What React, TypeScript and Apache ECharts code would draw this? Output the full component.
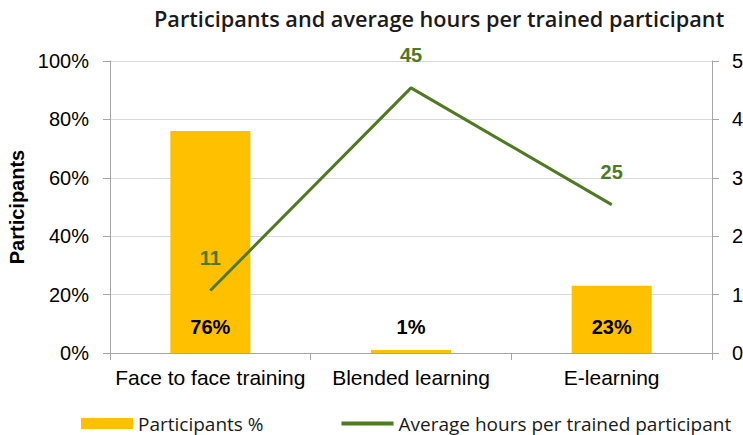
import React, { useEffect, useRef } from "react";
import * as echarts from "echarts";

const categories = ["Face to face training", "Blended learning", "E-learning"];
const participantsPct = [76, 1, 23];
const avgHours = [10.7, 45.4, 25.4];
const leftTicks = ["0%", "20%", "40%", "60%", "80%", "100%"];
const rightTicks = ["0", "10", "20", "30", "40", "50"];

const GOLD = "#FFC000";
const GREEN = "#4E7A21";
const AXIS = "#A6A6A6";
const GRID = "#D9D9D9";
const TICK_FONT = "Liberation Sans";
const TITLE_FONT = "Open Sans";

export default function App() {
  const ref = useRef<HTMLDivElement>(null);
  useEffect(() => {
    if (!ref.current) return;
    const chart = echarts.init(ref.current, undefined, { renderer: "svg" });
    chart.setOption({
      animation: false,
      backgroundColor: "#ffffff",
      title: {
        text: "Participants and average hours per trained participant",
        left: 149,
        top: 2,
        textStyle: { fontFamily: TITLE_FONT, fontSize: 21.7, fontWeight: 600, color: "#1a1a1a" },
      },
      grid: { left: 110, right: 31, top: 61, bottom: 82, containLabel: false, outerBoundsMode: "none" },
      legend: {
        left: 76,
        top: 409,
        itemGap: 78,
        itemWidth: 52,
        itemHeight: 11,
        textStyle: { fontFamily: TITLE_FONT, fontSize: 19, color: "#1a1a1a" },
        data: [
          { name: "Participants %", icon: "rect", itemStyle: { color: GOLD } },
          { name: "Average hours per trained participant", icon: "path://M0,0 H52 V4 H0 Z", itemStyle: { color: GREEN } },
        ],
      },
      xAxis: {
        type: "category",
        data: categories,
        axisLine: { lineStyle: { color: AXIS, width: 1 } },
        axisTick: { show: true, length: 7, lineStyle: { color: AXIS } },
        axisLabel: { fontFamily: TICK_FONT, fontSize: 21, color: "#000", margin: 14, interval: 0 },
      },
      yAxis: [
        {
          type: "value",
          min: 0,
          max: 100,
          interval: 20,
          name: "Participants",
          nameLocation: "middle",
          nameRotate: 90,
          nameGap: 83,
          nameTextStyle: { fontFamily: TICK_FONT, fontSize: 20, fontWeight: "bold", color: "#000" },
          axisLine: { show: true, lineStyle: { color: AXIS } },
          axisTick: { show: true, length: 7, lineStyle: { color: AXIS } },
          splitLine: { lineStyle: { color: GRID, width: 1 } },
          axisLabel: {
            fontFamily: TICK_FONT,
            fontSize: 20,
            color: "#000",
            margin: 21,
            formatter: (v: number) => leftTicks[Math.round(v / 20)],
          },
        },
        {
          type: "value",
          min: 0,
          max: 50,
          interval: 10,
          position: "right",
          axisLine: { show: true, lineStyle: { color: AXIS } },
          axisTick: { show: true, length: 7, lineStyle: { color: AXIS } },
          splitLine: { show: false },
          axisLabel: {
            fontFamily: TICK_FONT,
            fontSize: 20,
            color: "#000",
            margin: 20,
            formatter: (v: number) => rightTicks[Math.round(v / 10)],
          },
        },
      ],
      series: [
        {
          name: "Participants %",
          type: "bar",
          yAxisIndex: 0,
          data: participantsPct,
          barWidth: 80,
          itemStyle: { color: GOLD },
          label: {
            show: true,
            position: "insideBottom",
            distance: 16,
            fontFamily: TICK_FONT,
            fontSize: 20,
            fontWeight: "bold",
            color: "#000",
            formatter: (p: any) => `${p.value}%`,
          },
        },
        {
          name: "Average hours per trained participant",
          type: "line",
          yAxisIndex: 1,
          data: avgHours,
          symbol: "circle",
          symbolSize: 1,
          showSymbol: true,
          lineStyle: { color: GREEN, width: 3 },
          itemStyle: { color: GREEN },
          label: {
            show: true,
            position: "top",
            distance: 22,
            fontFamily: TICK_FONT,
            fontSize: 20,
            fontWeight: "bold",
            color: GREEN,
            formatter: (p: any) => `${Math.round(p.value)}`,
          },
        },
      ],
    });
    return () => chart.dispose();
  }, []);
  return <div ref={ref} style={{ width: 743, height: 435, position: "absolute", left: 0, top: 0 }} />;
}
